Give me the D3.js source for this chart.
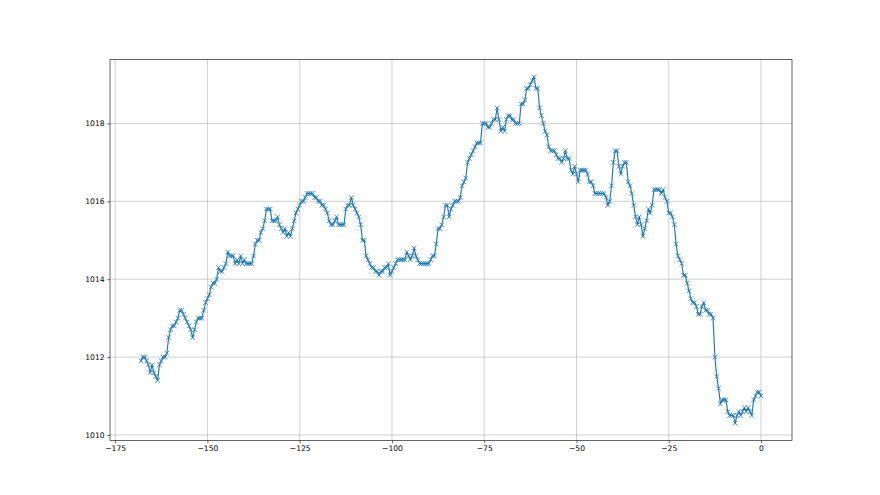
<!DOCTYPE html>
<html>
<head>
<meta charset="utf-8">
<script src="https://cdn.jsdelivr.net/npm/d3@7/dist/d3.min.js"></script>
<style>
  html, body { margin: 0; padding: 0; background: #fff; }
  svg { display: block; }
  .tick text { font-family: "DejaVu Sans", sans-serif; font-size: 7.6px; fill: #000; }
</style>
</head>
<body>
<svg id="chart" width="880" height="495"></svg>
<script>
// Pressure readings (hPa), one every half hour, oldest first; the last one is at hour 0
const pressure = [
  // -168 .. -157.5
  1011.9, 1012.0, 1012.0, 1011.9, 1011.8, 1011.6, 1011.8, 1011.6, 1011.5, 1011.4, 1011.8,
  1011.9, 1012.0, 1012.0, 1012.1, 1012.5, 1012.7, 1012.8, 1012.8, 1012.9, 1013.0, 1013.2,
  // -157 .. -150
  1013.2, 1013.1, 1013.0, 1012.9, 1012.8, 1012.7, 1012.5, 1012.7, 1012.9, 1013.0, 1013.0,
  1013.0, 1013.2, 1013.4, 1013.5,
  // -149.5 .. -136.5
  1013.6, 1013.8, 1013.9, 1013.9, 1014.0, 1014.3, 1014.2, 1014.2, 1014.3, 1014.4, 1014.7,
  1014.6, 1014.6, 1014.6, 1014.4, 1014.5, 1014.4, 1014.6, 1014.4, 1014.5, 1014.4, 1014.4,
  1014.4, 1014.4, 1014.6, 1014.9, 1015.0,
  // -136 .. -119
  1015.0, 1015.2, 1015.3, 1015.5, 1015.8, 1015.8, 1015.8, 1015.5, 1015.5, 1015.5, 1015.6,
  1015.4, 1015.3, 1015.2, 1015.3, 1015.1, 1015.2, 1015.1, 1015.3, 1015.5, 1015.7, 1015.8,
  1015.9, 1016.0, 1016.0, 1016.1, 1016.2, 1016.2, 1016.2, 1016.2, 1016.1, 1016.1, 1016.0,
  1016.0, 1015.9,
  // -118.5 .. -102.5
  1015.9, 1015.8, 1015.7, 1015.5, 1015.4, 1015.4, 1015.5, 1015.6, 1015.4, 1015.4, 1015.4,
  1015.4, 1015.8, 1015.9, 1015.9, 1016.1, 1015.9, 1015.8, 1015.7, 1015.6, 1015.4, 1015.0,
  1015.0, 1014.6, 1014.5, 1014.4, 1014.3, 1014.3, 1014.2, 1014.2, 1014.1, 1014.2, 1014.2,
  // -102 .. -87
  1014.3, 1014.3, 1014.4, 1014.1, 1014.2, 1014.3, 1014.4, 1014.5, 1014.5, 1014.5, 1014.5,
  1014.5, 1014.7, 1014.6, 1014.5, 1014.6, 1014.8, 1014.6, 1014.5, 1014.4, 1014.4, 1014.4,
  1014.4, 1014.4, 1014.4, 1014.5, 1014.6, 1014.6, 1014.9, 1015.3, 1015.3,
  // -86.5 .. -72
  1015.4, 1015.6, 1015.9, 1015.9, 1015.6, 1015.8, 1015.9, 1016.0, 1016.0, 1016.0, 1016.1,
  1016.4, 1016.5, 1016.6, 1017.0, 1017.1, 1017.2, 1017.3, 1017.4, 1017.5, 1017.5, 1017.5,
  1018.0, 1018.0, 1018.0, 1017.9, 1017.9, 1018.0, 1018.1, 1018.1,
  // -71.5 .. -58
  1018.4, 1018.1, 1017.8, 1017.9, 1017.8, 1018.1, 1018.2, 1018.2, 1018.1, 1018.1, 1018.0,
  1018.0, 1018.0, 1018.5, 1018.5, 1018.6, 1018.9, 1018.9, 1019.0, 1019.1, 1019.2, 1018.9,
  1018.9, 1018.4, 1018.2, 1018.0, 1017.8, 1017.7,
  // -57.5 .. -37
  1017.4, 1017.3, 1017.3, 1017.3, 1017.2, 1017.1, 1017.1, 1017.0, 1017.1, 1017.3, 1017.1,
  1017.1, 1016.8, 1016.7, 1016.9, 1016.7, 1016.5, 1016.8, 1016.8, 1016.8, 1016.8, 1016.7,
  1016.5, 1016.5, 1016.4, 1016.2, 1016.2, 1016.2, 1016.2, 1016.2, 1016.2, 1016.1, 1015.9,
  1016.0, 1016.4, 1017.0, 1017.3, 1017.3, 1016.9, 1016.7, 1016.9, 1017.0,
  // -36.5 .. -22
  1017.0, 1016.5, 1016.4, 1016.2, 1015.9, 1015.6, 1015.4, 1015.6, 1015.4, 1015.1, 1015.3,
  1015.5, 1015.8, 1015.7, 1015.9, 1016.3, 1016.3, 1016.3, 1016.3, 1016.2, 1016.3, 1016.1,
  1016.0, 1015.7, 1015.7, 1015.6, 1015.4, 1014.9, 1014.6, 1014.5,
  // -21.5 .. 0
  1014.4, 1014.1, 1014.1, 1013.9, 1013.7, 1013.5, 1013.4, 1013.4, 1013.3, 1013.1, 1013.1,
  1013.3, 1013.4, 1013.2, 1013.2, 1013.1, 1013.1, 1013.0, 1012.0, 1011.5, 1011.2, 1010.8,
  1010.9, 1010.9, 1010.9, 1010.6, 1010.5, 1010.5, 1010.5, 1010.3, 1010.5, 1010.6, 1010.5,
  1010.6, 1010.7, 1010.6, 1010.7, 1010.6, 1010.5, 1010.9, 1011.0, 1011.1, 1011.1, 1011.0
];
const stepHours = 0.5;
const xTicks = [-175, -150, -125, -100, -75, -50, -25, 0];
const yTicks = [1010, 1012, 1014, 1016, 1018];

const n = pressure.length;
const data = pressure.map((v, i) => ({ t: -(n - 1 - i) * stepHours, v }));

const W = 880, H = 495;
const L = 110, R = 792, T = 59.4, B = 440.6;

const tExt = d3.extent(data, d => d.t);
const vExt = d3.extent(data, d => d.v);
const tPad = (tExt[1] - tExt[0]) * 0.05;
const vPad = (vExt[1] - vExt[0]) * 0.05;

const x = d3.scaleLinear().domain([tExt[0] - tPad, tExt[1] + tPad]).range([L, R]);
const y = d3.scaleLinear().domain([vExt[0] - vPad, vExt[1] + vPad]).range([B, T]);

const svg = d3.select("#chart");
svg.append("rect").attr("width", W).attr("height", H).attr("fill", "#fff");

// grid
const grid = svg.append("g").attr("stroke", "#b0b0b0").attr("stroke-width", 0.6);
grid.selectAll("line.gx").data(xTicks).join("line")
  .attr("x1", d => x(d)).attr("x2", d => x(d)).attr("y1", T).attr("y2", B);
grid.selectAll("line.gy").data(yTicks).join("line")
  .attr("y1", d => y(d)).attr("y2", d => y(d)).attr("x1", L).attr("x2", R);

// line
const color = "#1f77b4";
const line = d3.line().x(d => x(d.t)).y(d => y(d.v));
svg.append("path").datum(data)
  .attr("fill", "none").attr("stroke", color).attr("stroke-width", 1.15)
  .attr("stroke-linejoin", "round").attr("d", line);

// x markers
const m = 2.3;
svg.append("g").selectAll("path").data(data).join("path")
  .attr("d", d => {
    const px = x(d.t), py = y(d.v);
    return `M${px - m},${py - m}L${px + m},${py + m}M${px - m},${py + m}L${px + m},${py - m}`;
  })
  .attr("stroke", color).attr("stroke-width", 0.8).attr("fill", "none");

// axes
const xAxis = d3.axisBottom(x).tickValues(xTicks).tickSize(2.7).tickPadding(2.7).tickSizeOuter(0);
const yAxis = d3.axisLeft(y).tickValues(yTicks).tickSize(2.7).tickPadding(2.7).tickSizeOuter(0)
  .tickFormat(d3.format("d"));

const gx = svg.append("g").attr("transform", `translate(0,${B})`).call(xAxis);
const gy = svg.append("g").attr("transform", `translate(${L},0)`).call(yAxis);
[gx, gy].forEach(g => {
  g.select(".domain").remove();
  g.selectAll(".tick line").attr("stroke", "#000").attr("stroke-width", 0.6);
});

// frame
svg.append("rect").attr("x", L).attr("y", T).attr("width", R - L).attr("height", B - T)
  .attr("fill", "none").attr("stroke", "#000").attr("stroke-width", 0.6);
</script>
</body>
</html>
